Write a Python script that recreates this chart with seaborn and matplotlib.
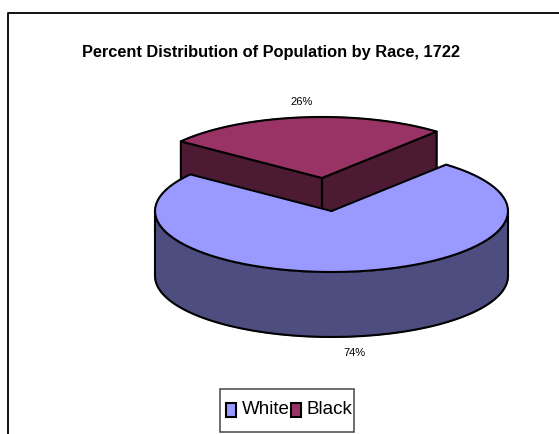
import numpy as np
import pandas as pd
import matplotlib
matplotlib.use('Agg')
import matplotlib.pyplot as plt
from matplotlib.patches import Rectangle
import seaborn as sns

races = ['White', 'Black']
shares = [74, 26]
top_colors = ['#9999FF', '#993366']
side_colors = ['#4D4D80', '#4D1A33']

sns.set_theme(style='white')
plt.rcParams['font.family'] = ['Liberation Sans', 'DejaVu Sans']

# pie shape in pixels, axes below span the whole figure
a, b, depth = 176.5, 61, 65
cx, cy = 331.5, 211
bx, by = 322, 178   # the black slice is pulled out to here
start = 49.5        # angle where the black slice begins


def arc(x0, y0, t0, t1):
    t = np.radians(np.linspace(t0, t1, 80))
    return x0 + a * np.cos(t), y0 - b * np.sin(t)


def outline(ax, x, y, z):
    df = pd.DataFrame({'x': x, 'y': y})
    sns.lineplot(data=df, x='x', y='y', sort=False, estimator=None, color='black',
                 linewidth=1.5, ax=ax, legend=False, zorder=z)


fig = plt.figure(figsize=(5.59, 4.34), dpi=100)
ax = fig.add_axes([0, 0, 1, 1])
ax.set_xlim(0, 559)
ax.set_ylim(434, 0)
ax.axis('off')

# chart frame runs off the right and bottom of the picture
ax.plot([7.5, 7.5, 559], [434, 13, 13], color='black', linewidth=1.3)

black_span = shares[1] / sum(shares) * 360
end = start + black_span

# black slice, drawn first as the white one sits in front
xs, ys = arc(bx, by, start, end)
for cor_x, cor_y in [(xs[-1], ys[-1]), (xs[0], ys[0])]:
    wx = [bx, cor_x, cor_x, bx]
    wy = [by, cor_y, cor_y + depth, by + depth]
    ax.fill(wx, wy, color=side_colors[1], zorder=1)
    outline(ax, wx + [bx], wy + [by], 1.5)
ax.fill(np.r_[bx, xs], np.r_[by, ys], color=top_colors[1], zorder=2)
outline(ax, np.r_[bx, xs, bx], np.r_[by, ys, by], 2.5)

# white slice, wall first and then the top
xw, yw = arc(cx, cy, 180, 360)
ax.fill(np.r_[xw, xw[::-1]], np.r_[yw, yw[::-1] + depth], color=side_colors[0], zorder=3)
outline(ax, np.r_[xw, xw[::-1], xw[0]], np.r_[yw, yw[::-1] + depth, yw[0]], 3.5)
xt, yt = arc(cx, cy, end, start + 360)
ax.fill(np.r_[cx, xt], np.r_[cy, yt], color=top_colors[0], zorder=4)
outline(ax, np.r_[cx, xt, cx], np.r_[cy, yt, cy], 4.5)

ax.text(270.5, 52, 'Percent Distribution of Population by Race, 1722', ha='center', va='center',
        fontsize=11.8, fontweight='bold', color='black')
ax.text(302, 102, f'{shares[1]}%', ha='center', va='center', fontsize=8, color='black')
ax.text(354, 353, f'{shares[0]}%', ha='center', va='center', fontsize=8, color='black')

# legend box, placed by hand so it keeps the tall narrow look
ax.add_patch(Rectangle((220, 389), 134, 43, facecolor='white', edgecolor='#444444',
                       linewidth=1.1, zorder=6))
for race, color, hx, tx in zip(races, top_colors, [226, 291], [242, 306]):
    ax.add_patch(Rectangle((hx, 403), 10, 14, facecolor=color, edgecolor='black',
                           linewidth=1.5, zorder=7))
    ax.text(tx, 410, race, ha='left', va='center', fontsize=13.5, color='black', zorder=7)

plt.savefig('out.png', dpi=100)
